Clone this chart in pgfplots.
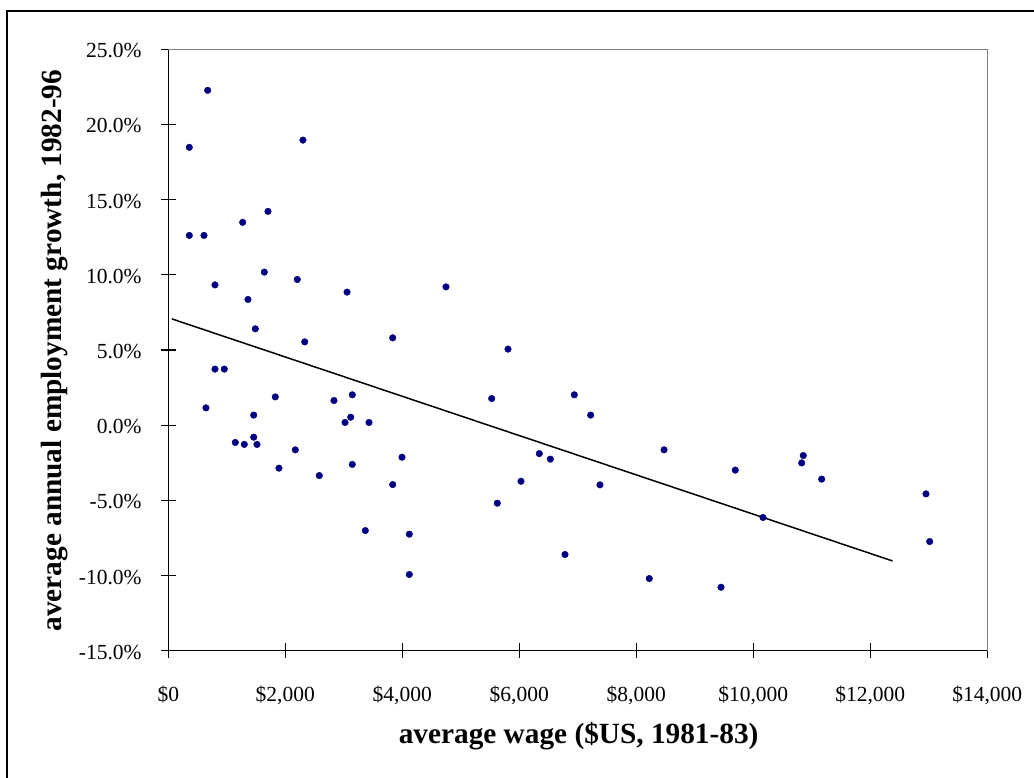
\documentclass[border=0pt]{standalone}
\usepackage{fontspec}
\setmainfont{Liberation Serif}
\usepackage{pgfplots}
\pgfplotsset{compat=1.18}
\definecolor{navy}{HTML}{000080}

% wage ($), growth (%)
\pgfplotstableread{
x y
673 22.27
359 18.48
2302 18.96
1704 14.22
1271 13.49
359 12.62
610 12.62
1641 10.18
2205 9.69
798 9.33
4747 9.20
3055 8.85
1362 8.36
1487 6.41
2332 5.54
3836 5.81
798 3.73
957 3.73
644 1.15
1460 0.67
1829 1.88
2832 1.64
3145 2.02
3118 0.53
3021 0.18
3431 0.18
1145 -1.15
1299 -1.28
1460 -0.80
1516 -1.28
2171 -1.64
1892 -2.86
2581 -3.35
3145 -2.61
3995 -2.13
3836 -3.95
3368 -7.01
4120 -7.25
4120 -9.93
5807 5.06
5528 1.77
6940 2.02
7220 0.67
6342 -1.89
6530 -2.26
6029 -3.73
7379 -3.97
5624 -5.19
6781 -8.60
8474 -1.64
8222 -10.20
9448 -10.78
9692 -2.99
10855 -2.02
10827 -2.51
11169 -3.59
10166 -6.14
12952 -4.57
13015 -7.74
}\wagedata

\begin{document}
\begin{tikzpicture}
\useasboundingbox (0,0) rectangle (1034pt,777pt);
\draw[line width=1.5pt] (7pt,-3pt) -- (7pt,766pt) -- (1040pt,766pt);
\begin{axis}[
  scale only axis,
  width=819pt, height=601.4pt,
  at={(168.3pt,126.3pt)}, anchor=south west,
  xmin=0, xmax=14000,
  ymin=-15, ymax=25,
  scaled x ticks=false,
  scaled y ticks=false,
  axis x line*=bottom,
  axis y line*=left,
  axis line style={line width=1.3pt},
  every tick/.style={black, line width=1.3pt},
  tick align=center,
  major tick length=14.5pt,
  xtick={0,2000,...,14000},
  xticklabels={{\$0},{\$2,000},{\$4,000},{\$6,000},{\$8,000},{\$10,000},{\$12,000},{\$14,000}},
  ytick={-15,-10,...,25},
  yticklabels={{-15.0\%},{-10.0\%},{-5.0\%},{0.0\%},{5.0\%},{10.0\%},{15.0\%},{20.0\%},{25.0\%}},
  tick label style={font=\fontsize{21.5}{24}\selectfont},
  xticklabel style={anchor=base, inner sep=0pt, yshift=-43.3pt},
  yticklabel style={anchor=east, inner sep=0pt, xshift=-19.3pt, yshift=-1.5pt},
  xlabel={average wage (\$US, 1981-83)},
  ylabel={average annual employment growth, 1982-96},
  every axis x label/.style={at={(axis description cs:0.501,-0.155)}, anchor=base,
    font=\fontsize{29.3}{34}\selectfont\bfseries},
  every axis y label/.style={at={(axis description cs:-0.1305,0.499)}, anchor=base, rotate=90,
    font=\fontsize{29.3}{34}\selectfont\bfseries},
  clip=false,
]
\draw[gray, line width=1.3pt] (rel axis cs:0,1) -- (rel axis cs:1,1) -- (rel axis cs:1,0);
\addplot[only marks, mark=*, mark size=3.3pt, navy, mark options={fill=navy, draw=navy}]
  table[x=x, y=y] {\wagedata};
\addplot[black, line width=1.5pt] coordinates {(60,7.07) (12380,-9.03)};
\end{axis}
\end{tikzpicture}
\end{document}
